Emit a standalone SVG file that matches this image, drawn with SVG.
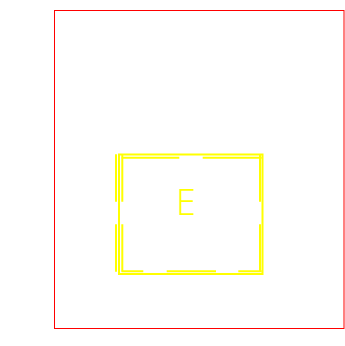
<svg xmlns="http://www.w3.org/2000/svg" width="345" height="346" viewBox="0 0 345 346">
<style>
.frame{fill:none;stroke:#ff0000;stroke-width:1}
.y{fill:none;stroke:#ffff00;stroke-width:2}
.lbl{fill:#ffff00;font-family:"Open Sans","Liberation Sans",sans-serif;font-weight:300;font-size:36px;text-anchor:middle}
</style>
<rect class="frame" x="54.5" y="10.5" width="289.5" height="318"/>
<g id="nodeE">
<rect class="y" x="119" y="154.5" width="143.5" height="119.5"/>
<g id="dashes">
<path class="y" d="M121.7 157.7H179.3M202.7 157.7H261.7"/>
<path class="y" d="M116 154.3V201.7M116 224.3V271.7"/>
<path class="y" d="M122.3 154.3V201.7M122.3 224.3V271.7"/>
<path class="y" d="M260 154.3V201.7M260 224.3V271.7"/>
<path class="y" d="M121.7 271.3H143.3M166.7 271.3H216M238.3 271.3H261.7"/>
</g>
<text class="lbl" x="186" y="214.5">E</text>
</g>
<g id="connectors"/>
</svg>
